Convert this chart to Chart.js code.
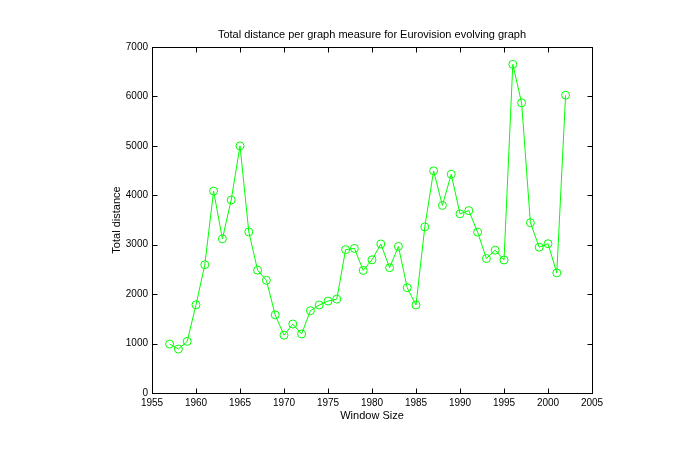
<!DOCTYPE html>
<html>
<head>
<meta charset="utf-8">
<script src="https://cdn.jsdelivr.net/npm/chart.js@4/dist/chart.umd.min.js"></script>
<style>
  html, body { margin: 0; padding: 0; background: #fff; }
  #chart { display: block; }
</style>
</head>
<body>
<canvas id="chart" width="700" height="460"></canvas>
<script>
const years = [1957, 1958, 1959, 1960, 1961, 1962, 1963, 1964, 1965, 1966,
    1967, 1968, 1969, 1970, 1971, 1972, 1973, 1974, 1975, 1976,
    1977, 1978, 1979, 1980, 1981, 1982, 1983, 1984, 1985, 1986,
    1987, 1988, 1989, 1990, 1991, 1992, 1993, 1994, 1995, 1996,
    1997, 1998, 1999, 2000, 2001, 2002];
const totalDistance = [990, 890, 1045, 1785, 2595, 4085, 3120, 3905, 5000, 3260,
    2485, 2280, 1580, 1170, 1395, 1195, 1665, 1780, 1860, 1900,
    2900, 2925, 2480, 2695, 3015, 2535, 2965, 2130, 1780, 3360,
    4495, 3795, 4425, 3625, 3690, 3255, 2720, 2890, 2690, 6650,
    5870, 3445, 2950, 3020, 2430, 6025];
const xTicks = { min: 1955, max: 2005, step: 5 };
const yTicks = { min: 0, max: 7000, step: 1000 };
const titleText = "Total distance per graph measure for Eurovision evolving graph";

const font = "'Liberation Sans', Arial, Helvetica, sans-serif";

// matlab style box with inward ticks and title over the axes
const framePlugin = {
    id: "frame",
    afterDraw(chart) {
        const { ctx, chartArea: a, scales } = chart;
        ctx.save();
        ctx.strokeStyle = "#000";
        ctx.lineWidth = 1;
        const L = Math.round(a.left) + 0.5, R = Math.round(a.right) + 0.5;
        const T = Math.round(a.top) + 0.5, B = Math.round(a.bottom) + 0.5;
        ctx.strokeRect(L, T, R - L, B - T);
        ctx.beginPath();
        scales.x.ticks.forEach((t) => {
            const px = Math.round(scales.x.getPixelForValue(t.value)) + 0.5;
            ctx.moveTo(px, B); ctx.lineTo(px, B - 5);
            ctx.moveTo(px, T); ctx.lineTo(px, T + 5);
        });
        scales.y.ticks.forEach((t) => {
            const py = Math.round(scales.y.getPixelForValue(t.value)) + 0.5;
            ctx.moveTo(L, py); ctx.lineTo(L + 5, py);
            ctx.moveTo(R, py); ctx.lineTo(R - 5, py);
        });
        ctx.stroke();
        ctx.fillStyle = "#000";
        ctx.font = "11px " + font;
        ctx.textAlign = "center";
        ctx.textBaseline = "middle";
        ctx.fillText(titleText, (a.left + a.right) / 2, a.top - 12);
        ctx.restore();
    },
};

new Chart(document.getElementById("chart"), {
    type: "line",
    data: {
        datasets: [
            {
                data: years.map((y, i) => ({ x: y, y: totalDistance[i] })),
                borderColor: "#00ff00",
                backgroundColor: "rgba(0,0,0,0)",
                borderWidth: 1,
                pointRadius: 4,
                pointBorderWidth: 1,
                pointBorderColor: "#00ff00",
                pointBackgroundColor: "rgba(0,0,0,0)",
                tension: 0,
            },
        ],
    },
    options: {
        responsive: false,
        animation: false,
        layout: { padding: { left: 110, right: 108, top: 47, bottom: 37 } },
        plugins: {
            legend: { display: false },
            tooltip: { enabled: false },
            title: { display: false },
        },
        scales: {
            x: {
                type: "linear",
                min: xTicks.min,
                max: xTicks.max,
                grid: { display: false, drawTicks: false },
                border: { display: false },
                ticks: {
                    stepSize: xTicks.step,
                    color: "#000",
                    font: { family: font, size: 10 },
                    maxRotation: 0,
                    padding: 4,
                    callback: (v) => String(v),
                },
                title: {
                    display: true,
                    text: "Window Size",
                    color: "#000",
                    font: { family: font, size: 11 },
                    padding: { top: 0, bottom: 0 },
                },
                afterFit: (s) => { s.height = 30; },
            },
            y: {
                min: yTicks.min,
                max: yTicks.max,
                grid: { display: false, drawTicks: false },
                border: { display: false },
                ticks: {
                    stepSize: yTicks.step,
                    color: "#000",
                    font: { family: font, size: 10 },
                    padding: 4,
                    callback: (v) => String(v),
                },
                title: {
                    display: true,
                    text: "Total distance",
                    color: "#000",
                    font: { family: font, size: 11 },
                    padding: 0,
                },
                afterFit: (s) => { s.width = 42; },
            },
        },
    },
    plugins: [framePlugin],
});
</script>
</body>
</html>
